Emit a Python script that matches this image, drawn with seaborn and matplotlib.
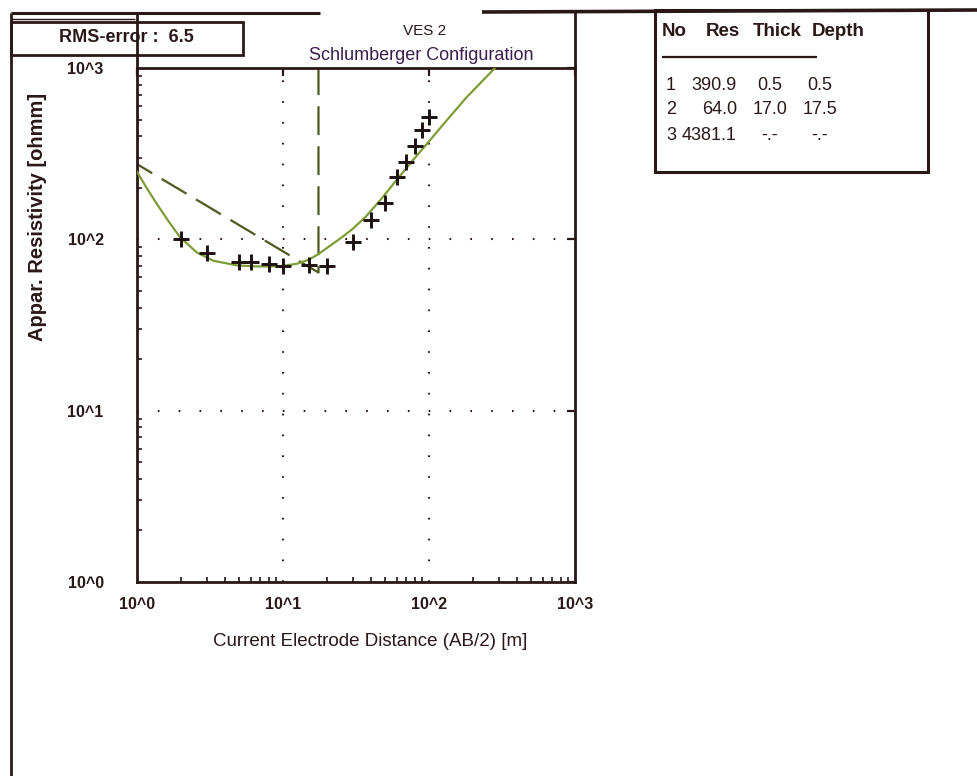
import matplotlib
matplotlib.use("Agg")
import matplotlib.pyplot as plt
from matplotlib.lines import Line2D
from matplotlib.patches import Rectangle
from matplotlib.ticker import LogLocator, NullFormatter
import pandas as pd
import seaborn as sns

W, H = 978, 776

# measured sounding points: AB/2 [m] and apparent resistivity [ohm m]
ab2_obs = [2, 3, 5, 6, 8, 10, 15, 20, 30, 40, 50, 60, 70, 80, 90, 100]
rho_obs = [101, 83, 74, 74, 72, 70, 71, 70, 96, 129, 162, 231, 282, 350, 434, 517]

# fitted model curve
ab2_fit = [1.0, 1.15, 1.36, 1.65, 1.97, 2.56, 3.33, 4.82, 6.5, 8.15, 10.0,
           12.4, 15, 17.5, 20, 25, 30, 37, 46, 60, 78, 100, 132, 181, 283]
rho_fit = [248, 203, 162, 127, 103, 84, 75, 70.5, 69.5, 69.4, 70.0,
           72, 76, 82, 89, 102, 115, 136, 168, 222, 291, 373, 494, 675, 1000]

# layer model (table, top right)
layer_no = ["1", "2", "3"]
layer_res = [390.9, 64.0, 4381.1]
layer_thick = ["0.5", "17.0", "-.-"]
layer_depth = ["0.5", "17.5", "-.-"]
layer_depth_m = [0.5, 17.5, 17.5]

rms_error = 6.5
decade_ticks = [1, 10, 100, 1000]
decade_labels = ["10^0", "10^1", "10^2", "10^3"]

INK = "#2a1818"
FIT_GREEN = "#7d9c36"
STEP_GREEN = "#4d5a22"


def fx(x):
    return x / W


def fy(y):
    return 1 - y / H


def fig_line(fig, xs, ys, lw=2.0, color=INK):
    fig.add_artist(Line2D([fx(x) for x in xs], [fy(y) for y in ys],
                          transform=fig.transFigure, lw=lw, color=color,
                          solid_capstyle="butt"))


def fig_box(fig, x0, y0, x1, y1, lw=2.0):
    fig.add_artist(Rectangle((fx(x0), fy(y1)), fx(x1 - x0), (y1 - y0) / H,
                             transform=fig.transFigure, fill=True,
                             facecolor="white", edgecolor=INK, lw=lw))


sns.set_theme(style="white")
plt.rcParams["font.family"] = ["Liberation Sans", "DejaVu Sans"]
plt.rcParams["text.color"] = INK

fig = plt.figure(figsize=(W / 100, H / 100), dpi=100)
fig.patch.set_facecolor("white")

AX_L, AX_R, AX_T, AX_B = 137, 575, 68, 582
ax = fig.add_axes([fx(AX_L), fy(AX_B), fx(AX_R - AX_L), (AX_B - AX_T) / H])
ax.set_xscale("log")
ax.set_yscale("log")

# dotted decade grid inside the frame
for v in decade_ticks[1:3]:
    ax.axvline(v, color=INK, lw=1.5, ls=(0, (0.8, 9.2)), zorder=1)
    ax.axhline(v, color=INK, lw=1.5, ls=(0, (0.8, 9.2)), zorder=1)

# layer model step (dashed)
step = pd.DataFrame({"depth": layer_depth_m, "res": layer_res})
sns.lineplot(data=step, x="depth", y="res", sort=False, estimator=None,
             color=STEP_GREEN, lw=1.6, ax=ax, zorder=2)
ax.lines[-1].set_dashes((13, 5))

# fitted curve
fit = pd.DataFrame({"ab2": ab2_fit, "rho": rho_fit})
sns.lineplot(data=fit, x="ab2", y="rho", sort=False, estimator=None,
             color=FIT_GREEN, lw=1.6, ax=ax, zorder=3)

# observed data
obs = pd.DataFrame({"ab2": ab2_obs, "rho": rho_obs})
sns.scatterplot(data=obs, x="ab2", y="rho", marker="+", s=120,
                color="#1c1010", linewidth=2.1, ax=ax, zorder=4)

ax.set_xlim(decade_ticks[0], decade_ticks[-1])
ax.set_ylim(decade_ticks[0], decade_ticks[-1])
ax.set_xticks(decade_ticks)
ax.set_xticklabels(decade_labels)
ax.set_yticks(decade_ticks)
ax.set_yticklabels(decade_labels)
ax.xaxis.set_minor_locator(LogLocator(base=10, subs=range(2, 10)))
ax.yaxis.set_minor_locator(LogLocator(base=10, subs=range(2, 10)))
ax.xaxis.set_minor_formatter(NullFormatter())
ax.yaxis.set_minor_formatter(NullFormatter())
ax.tick_params(which="major", direction="in", top=True, right=True,
               color=INK, width=1.6, length=6)
ax.tick_params(which="minor", direction="in", top=False, right=False,
               bottom=True, left=True, color=INK, width=1.2, length=3.5)
for lab in ax.get_xticklabels() + ax.get_yticklabels():
    lab.set_fontweight("bold")
ax.tick_params(axis="x", which="major", labelsize=11.5, pad=11, labelcolor=INK)
ax.tick_params(axis="y", which="major", labelsize=11.5, pad=24, labelcolor=INK)
for spine in ax.spines.values():
    spine.set_color(INK)
    spine.set_linewidth(2.0)
ax.set_xlabel("Current Electrode Distance (AB/2) [m]", fontsize=13.5,
              color=INK)
ax.set_ylabel("Appar. Resistivity [ohmm]", fontsize=14.5, fontweight="bold",
              color=INK)
ax.yaxis.set_label_coords((38 - AX_L) / (AX_R - AX_L),
                          (AX_B - 217) / (AX_B - AX_T))
ax.xaxis.set_label_coords((370 - AX_L) / (AX_R - AX_L),
                          -(641 - AX_B) / (AX_B - AX_T))
ax.xaxis.label.set_va("center")
ax.yaxis.label.set_va("center")
ax.set_facecolor("white")

# outer frame of the printout
fig_line(fig, [11, 11], [13, H], lw=2.0)
fig_line(fig, [11, 320], [13, 13], lw=2.2)
fig_line(fig, [482, W], [12, 10], lw=2.6)
fig_line(fig, [AX_L, AX_L], [13, AX_T], lw=2.0)
fig_line(fig, [AX_R, AX_R], [12, AX_T], lw=2.0)
fig_line(fig, [11, 135], [19, 19], lw=1.0)

# RMS box
fig_box(fig, 11, 22, 243, 55, lw=2.0)
fig.text(fx(126), fy(38), f"RMS-error :  {rms_error}", fontsize=13,
         fontweight="bold", ha="center", va="center", color=INK)

# titles
fig.text(fx(425), fy(31), "VES 2", fontsize=11, ha="center", va="center",
         color=INK)
fig.text(fx(421), fy(55), "Schlumberger Configuration", fontsize=13,
         ha="center", va="center", color="#3a1d4a")

# layer table
fig_box(fig, 655, 10, 928, 172, lw=2.2)
fig_line(fig, [662, 817], [57, 57], lw=1.6)
hdr_y = 31
fig.text(fx(662), fy(hdr_y), "No", fontsize=13.5, fontweight="bold",
         ha="left", va="center", color=INK)
fig.text(fx(740), fy(hdr_y), "Res", fontsize=13.5, fontweight="bold",
         ha="right", va="center", color=INK)
fig.text(fx(777), fy(hdr_y), "Thick", fontsize=13.5, fontweight="bold",
         ha="center", va="center", color=INK)
fig.text(fx(838), fy(hdr_y), "Depth", fontsize=13.5, fontweight="bold",
         ha="center", va="center", color=INK)
row_y = [85, 110, 136]
for i, y in enumerate(row_y):
    fig.text(fx(671), fy(y), layer_no[i], fontsize=13, ha="center",
             va="center", color=INK)
    fig.text(fx(737), fy(y), f"{layer_res[i]:.1f}", fontsize=13, ha="right",
             va="center", color=INK)
    fig.text(fx(770), fy(y), layer_thick[i], fontsize=13, ha="center",
             va="center", color=INK)
    fig.text(fx(820), fy(y), layer_depth[i], fontsize=13, ha="center",
             va="center", color=INK)

fig.savefig("out.png", dpi=100, facecolor="white")
